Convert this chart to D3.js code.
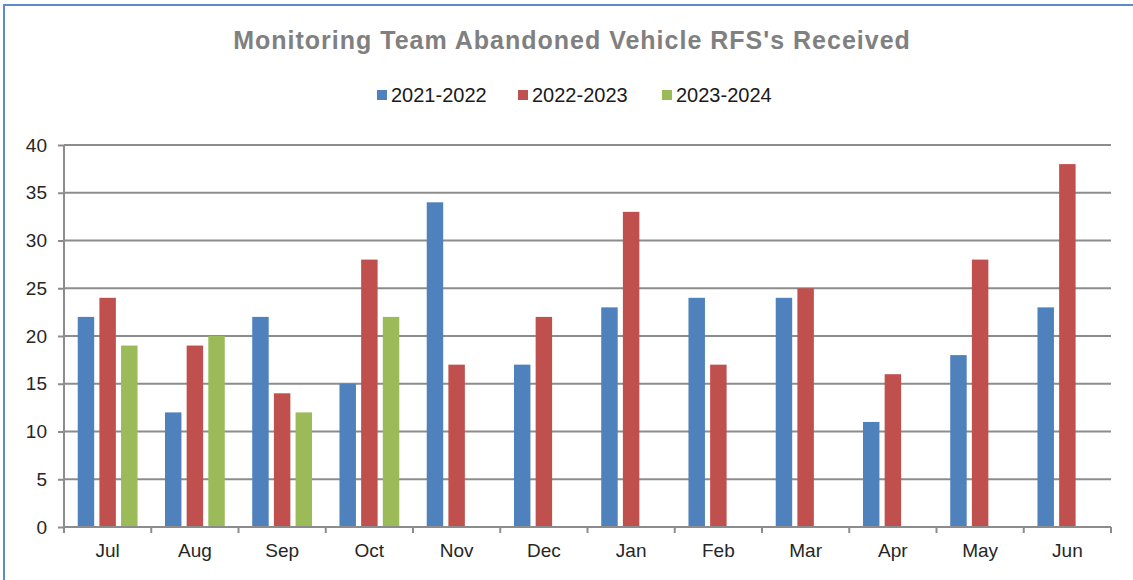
<!DOCTYPE html>
<html>
<head>
<meta charset="utf-8">
<script src="https://cdn.jsdelivr.net/npm/d3@7"></script>
<style>
  body { margin: 0; background: #fff; }
  svg { display: block; font-family: "Liberation Sans", Arial, sans-serif; }
</style>
</head>
<body>
<main></main>
<script>
// Data
const months = ["Jul", "Aug", "Sep", "Oct", "Nov", "Dec", "Jan", "Feb", "Mar", "Apr", "May", "Jun"];
const seriesNames = ["2021-2022", "2022-2023", "2023-2024"];
const fy2122 = [22, 12, 22, 15, 34, 17, 23, 24, 24, 11, 18, 23];
const fy2223 = [24, 19, 14, 28, 17, 22, 33, 17, 25, 16, 28, 38];
const fy2324 = [19, 20, 12, 22, null, null, null, null, null, null, null, null];
const yTicks = [0, 5, 10, 15, 20, 25, 30, 35, 40];
const colors = ["#4f81bd", "#c0504d", "#9bbb59"];

// Dimensions
const width = 1133;
const height = 580;
const margin = { top: 145, right: 22, bottom: 53, left: 64 };

const svg = d3.select("main")
  .append("svg")
  .attr("width", width)
  .attr("height", height);

// outer chart border (only top/left visible in the crop)
svg.append("rect")
  .attr("x", 4)
  .attr("y", 5)
  .attr("width", width + 20)
  .attr("height", height + 20)
  .attr("fill", "none")
  .attr("stroke", "#5b8bcb")
  .attr("stroke-width", 2);

// Title
svg.append("text")
  .attr("x", 572)
  .attr("y", 49)
  .attr("text-anchor", "middle")
  .attr("font-size", 25)
  .attr("letter-spacing", 1)
  .attr("font-weight", "bold")
  .attr("fill", "#808080")
  .text("Monitoring Team Abandoned Vehicle RFS's Received");

// Legend
const legendX = [377, 518, 662];
const legend = svg.selectAll(".legend")
  .data(seriesNames)
  .enter()
  .append("g")
  .attr("class", "legend")
  .attr("transform", (d, i) => `translate(${legendX[i]},90)`);

legend.append("rect")
  .attr("width", 10)
  .attr("height", 10)
  .attr("fill", (d, i) => colors[i]);

legend.append("text")
  .attr("x", 14)
  .attr("y", 12)
  .attr("font-size", 20)
  .attr("fill", "#1a1a1a")
  .text(d => d);

// Scales
const x0 = d3.scaleBand()
  .domain(months)
  .range([margin.left, width - margin.right])
  .padding(0);

const x1 = d3.scaleBand()
  .domain([0, 1, 2])
  .range([(x0.bandwidth() - 65) / 2, (x0.bandwidth() + 65) / 2])
  .paddingInner(0.24)
  .paddingOuter(0.12);

const y = d3.scaleLinear()
  .domain([0, 40])
  .range([height - margin.bottom, margin.top]);

// Gridlines
svg.append("g")
  .selectAll("line")
  .data(yTicks.filter(d => d > 0))
  .enter()
  .append("line")
  .attr("x1", margin.left)
  .attr("x2", width - margin.right)
  .attr("y1", d => y(d))
  .attr("y2", d => y(d))
  .attr("stroke", "#8c8c8c")
  .attr("stroke-width", 2);

// Bars
const all = [fy2122, fy2223, fy2324];
const barData = [];
months.forEach((m, mi) => {
  all.forEach((s, si) => {
    if (s[mi] != null) barData.push({ month: m, series: si, value: s[mi] });
  });
});

svg.selectAll(".bar")
  .data(barData)
  .enter()
  .append("rect")
  .attr("class", "bar")
  .attr("x", d => x0(d.month) + x1(d.series))
  .attr("y", d => y(d.value))
  .attr("width", x1.bandwidth())
  .attr("height", d => y(0) - y(d.value))
  .attr("fill", d => colors[d.series]);

// Axes
const yAxis = d3.axisLeft(y).tickValues(yTicks).tickSize(6).tickPadding(11);
const gy = svg.append("g")
  .attr("transform", `translate(${margin.left},0)`)
  .call(yAxis);
gy.select(".domain").attr("stroke", "#8c8c8c").attr("stroke-width", 2)
  .attr("d", `M0,${y(40)}V${y(0)}`);
gy.selectAll(".tick line").attr("stroke", "#8c8c8c").attr("stroke-width", 2);
gy.selectAll(".tick text")
  .attr("font-size", 19)
  .attr("font-family", "Liberation Sans, Arial, sans-serif")
  .attr("fill", "#262626");

const xAxis = d3.axisBottom(x0).tickSize(0).tickPadding(17);
const gx = svg.append("g")
  .attr("transform", `translate(0,${y(0)})`)
  .call(xAxis);
gx.select(".domain").attr("stroke", "#8c8c8c").attr("stroke-width", 2)
  .attr("d", `M${margin.left},0H${width - margin.right}`);
gx.selectAll(".tick text")
  .attr("font-size", 19)
  .attr("font-family", "Liberation Sans, Arial, sans-serif")
  .attr("fill", "#262626");

// tick marks at band boundaries
const bounds = months.map(m => x0(m)).concat([width - margin.right]);
gx.selectAll(".bound")
  .data(bounds)
  .enter()
  .append("line")
  .attr("class", "bound")
  .attr("x1", d => d)
  .attr("x2", d => d)
  .attr("y1", 0)
  .attr("y2", 6)
  .attr("stroke", "#8c8c8c")
  .attr("stroke-width", 2);
</script>
</body>
</html>
